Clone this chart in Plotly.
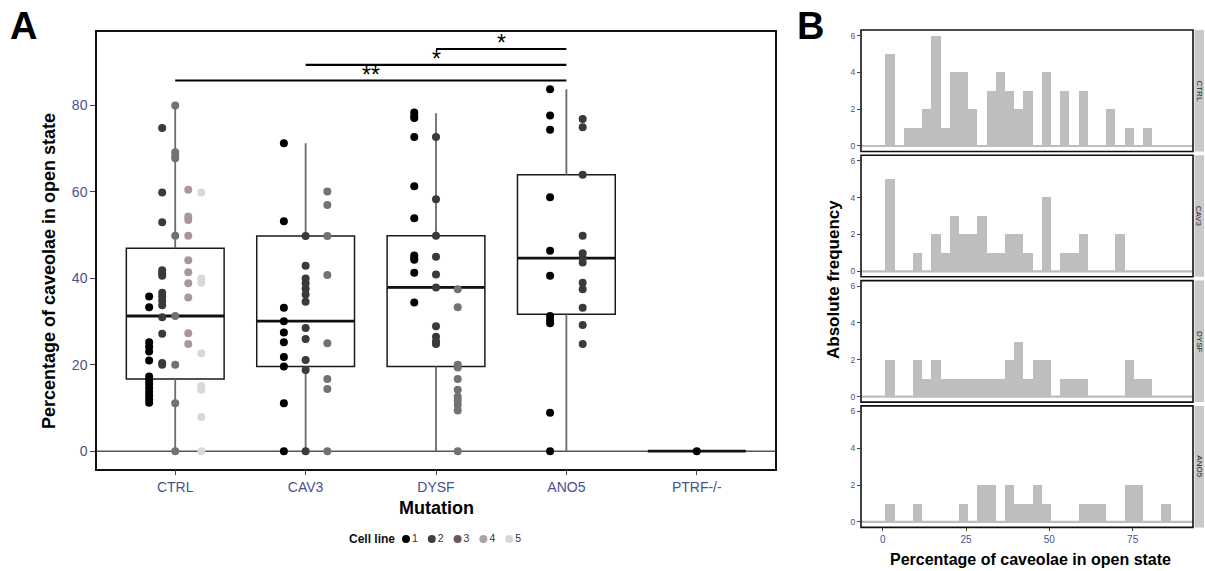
import plotly.graph_objects as go

W, H = 1205, 571

# ---------------- data: panel A ----------------
groups = ["CTRL", "CAV3", "DYSF", "ANO5", "PTRF-/-"]

ctrl_values = [
    [35.8, 33.3, 25.2, 24.2, 23.1, 21.0, 17.3, 16.5, 15.6, 14.7, 13.7, 12.9, 12.0, 11.2],
    [74.8, 59.9, 53.0, 41.9, 41.2, 40.6, 36.7, 35.8, 34.8, 33.8, 31.0, 27.2, 20.4, 20.0],
    [80.0, 69.2, 68.4, 67.8, 49.9, 31.3, 20.0, 11.1, 0.0],
    [60.5, 54.3, 53.5, 49.9, 44.2, 41.4, 38.9, 35.6, 27.3, 24.8],
    [59.9, 40.0, 39.0, 22.7, 15.1, 14.2, 7.9, 0.0],
]
cav3_values = [
    [71.3, 53.2, 33.2, 30.1, 27.5, 25.2, 21.8, 19.6, 11.1, 0.0],
    [49.8, 42.9, 40.0, 38.9, 37.6, 36.3, 34.6, 28.5, 26.0, 21.1, 18.8, 0.0],
    [60.1, 57.0, 49.8, 40.8, 25.0, 16.7, 14.4, 0.0],
]
dysf_values = [
    [78.4, 77.6, 77.1, 72.7, 61.3, 53.9, 45.3, 44.7, 44.3, 41.3, 34.4],
    [72.7, 58.3, 49.9, 45.0, 40.9, 37.9, 28.9, 26.5, 25.4, 24.8],
    [37.5, 33.3, 20.0, 19.4, 16.7, 14.2, 12.6, 11.7, 10.7, 9.4, 0.0],
]
ano5_values = [
    [83.8, 77.7, 74.4, 58.8, 46.4, 40.6, 31.3, 30.4, 29.6, 8.9, 0.0],
    [76.9, 75.0, 64.0, 49.9, 45.8, 44.7, 43.7, 39.0, 37.5, 33.2, 29.2, 24.8],
]
ptrf_values = [[0.0]]

box_q1 = [16.7, 19.6, 19.6, 31.7, 0.0]
box_median = [31.3, 30.1, 37.9, 44.7, 0.0]
box_q3 = [47.0, 49.8, 49.9, 64.0, 0.0]
whisker_low = [0.0, 0.0, 0.0, 0.0, 0.0]
whisker_high = [80.0, 71.3, 78.2, 83.8, 0.0]

sig_from = ["CTRL", "CAV3", "DYSF"]
sig_to = ["ANO5", "ANO5", "ANO5"]
sig_y = [85.8, 89.4, 93.1]
sig_label = ["**", "*", "*"]

cell_lines = ["1", "2", "3", "4", "5"]

# ---------------- data: panel B ----------------
facet_names = ["CTRL", "CAV3", "DYSF", "ANO5"]
hist_ctrl = [5, 0, 1, 1, 2, 6, 1, 4, 4, 2, 0, 3, 4, 3, 2, 3, 0, 4, 0, 3, 0, 3, 0, 0, 2, 0, 1, 0, 1, 0, 0]
hist_cav3 = [5, 0, 0, 1, 0, 2, 1, 3, 2, 2, 3, 1, 1, 2, 2, 1, 0, 4, 0, 1, 1, 2, 0, 0, 0, 2, 0, 0, 0, 0, 0]
hist_dysf = [2, 0, 0, 2, 1, 2, 1, 1, 1, 1, 1, 1, 1, 2, 3, 1, 2, 2, 0, 1, 1, 1, 0, 0, 0, 0, 2, 1, 1, 0, 0]
hist_ano5 = [1, 0, 0, 1, 0, 0, 0, 0, 1, 0, 2, 2, 0, 2, 1, 1, 2, 1, 0, 0, 0, 1, 1, 1, 0, 0, 2, 2, 0, 0, 1]
BIN_START = 0.8
BIN_WIDTH = 2.76

# ---------------- styles ----------------
FONT = "Liberation Sans, Arial, sans-serif"
TICK_BLUE = "#4a5090"
col_colors = ["#000000", "#3a3a3a", "#727272", "#a8989e", "#d8d8d8"]
legend_colors = ["#000000", "#3f3f3f", "#6e5360", "#a6a6a6", "#d6d6d6"]
BOX_W = 0.75
DODGE_W = 0.5


def px_x(p):
    return p / W


def px_y(p):
    return 1 - p / H


fig = go.Figure()

# ---------- panel A ----------
pos = {g: i + 1 for i, g in enumerate(groups)}

for i, g in enumerate(groups):
    xi = pos[g]
    fig.add_trace(go.Scatter(
        x=[xi, xi, None, xi, xi],
        y=[whisker_low[i], box_q1[i], None, box_q3[i], whisker_high[i]],
        mode="lines", line=dict(color="#6a6a6a", width=1.8),
        showlegend=False, hoverinfo="skip", xaxis="x", yaxis="y"))

for i, g in enumerate(groups):
    fig.add_trace(go.Box(
        x=[pos[g]], q1=[box_q1[i]], median=[box_median[i]], q3=[box_q3[i]],
        lowerfence=[box_q1[i]], upperfence=[box_q3[i]],
        width=BOX_W, fillcolor="rgba(255,255,255,0)",
        line=dict(color="#1a1a1a", width=1.5), boxpoints=False,
        showlegend=False, hoverinfo="skip", xaxis="x", yaxis="y"))
    fig.add_trace(go.Scatter(
        x=[pos[g] - BOX_W / 2, pos[g] + BOX_W / 2],
        y=[box_median[i], box_median[i]],
        mode="lines", line=dict(color="#111111", width=2.8),
        showlegend=False, hoverinfo="skip", xaxis="x", yaxis="y"))

all_values = {"CTRL": ctrl_values, "CAV3": cav3_values, "DYSF": dysf_values,
              "ANO5": ano5_values, "PTRF-/-": ptrf_values}
for g in groups:
    cols = all_values[g]
    n = len(cols)
    for j, vals in enumerate(cols):
        off = (j - (n - 1) / 2) * DODGE_W / n
        fig.add_trace(go.Scatter(
            x=[pos[g] + off] * len(vals), y=vals, mode="markers",
            marker=dict(size=8, color=col_colors[j], line=dict(width=0)),
            showlegend=False, hoverinfo="skip", xaxis="x", yaxis="y"))

shapes = []
annotations = []

shapes.append(dict(type="line", xref="x domain", yref="y", x0=0, x1=1, y0=0, y1=0,
                   line=dict(color="#555555", width=1.6), layer="below"))

for a, b, yv, lab in zip(sig_from, sig_to, sig_y, sig_label):
    shapes.append(dict(type="line", xref="x", yref="y", x0=pos[a], x1=pos[b], y0=yv, y1=yv,
                       line=dict(color="#000000", width=2.2)))
    annotations.append(dict(x=(pos[a] + pos[b]) / 2, y=yv, xref="x", yref="y",
                            text=lab, showarrow=False, xanchor="center", yanchor="bottom",
                            yshift=-9, font=dict(family=FONT, size=23, color="#000000")))

# ---------- panel B ----------
hists = [hist_ctrl, hist_cav3, hist_dysf, hist_ano5]
bin_centers = [BIN_START + BIN_WIDTH * (k + 0.5) for k in range(len(hist_ctrl))]
panel_tops = [30, 155.3, 280.6, 405.9]
PANEL_H = 121.5
bx0, bx1 = 861, 1193

for idx, (name, counts) in enumerate(zip(facet_names, hists)):
    ax = idx + 2
    fig.add_trace(go.Bar(
        x=bin_centers, y=counts, width=BIN_WIDTH,
        marker=dict(color="#bebebe", line=dict(width=0)),
        showlegend=False, hoverinfo="skip", xaxis=f"x{ax}", yaxis=f"y{ax}"))
    shapes.append(dict(type="line", xref=f"x{ax} domain", yref=f"y{ax}", x0=0, x1=1, y0=0, y1=0,
                       line=dict(color="#bdbdbd", width=2.2), layer="above"))
    shapes.append(dict(type="rect", xref=f"x{ax} domain", yref=f"y{ax} domain",
                       x0=0, x1=1, y0=0, y1=1, line=dict(color="#111111", width=1.6),
                       fillcolor="rgba(0,0,0,0)", layer="above"))
    shapes.append(dict(type="rect", xref="paper", yref=f"y{ax} domain",
                       x0=px_x(1194.5), x1=px_x(1204), y0=0, y1=1,
                       fillcolor="#c9c9c9", line=dict(width=0)))
    annotations.append(dict(x=px_x(1199.3), y=0.5, xref="paper", yref=f"y{ax} domain",
                            text=name, textangle=90, showarrow=False,
                            xanchor="center", yanchor="middle",
                            font=dict(family=FONT, size=8, color="#222222")))

# ---------- legend (manual, bottom) ----------
leg_x0 = 406
leg_dx = 25.8
leg_y = 539
fig.add_trace(go.Scatter(
    x=[leg_x0 + k * leg_dx for k in range(len(cell_lines))],
    y=[leg_y] * len(cell_lines),
    mode="markers+text", text=cell_lines, textposition="middle right",
    textfont=dict(family=FONT, size=10.5, color="#333333"),
    marker=dict(size=8, color=legend_colors, line=dict(width=0)),
    showlegend=False, hoverinfo="skip", xaxis="x6", yaxis="y6", cliponaxis=False))
annotations.append(dict(x=px_x(397), y=px_y(leg_y), xref="paper", yref="paper",
                        text="<b>Cell line</b>", showarrow=False, xanchor="right", yanchor="middle",
                        font=dict(family=FONT, size=12, color="#111111")))


# ---------- titles and panel letters ----------
def label(x, y, text, size, angle=0):
    return dict(x=px_x(x), y=px_y(y), xref="paper", yref="paper", text=text,
                textangle=angle, showarrow=False, xanchor="center", yanchor="middle",
                font=dict(family=FONT, size=size, color="#000000"))


annotations += [
    label(23, 26, "<b>A</b>", 38),
    label(810, 26, "<b>B</b>", 38),
    label(49, 271, "<b>Percentage of caveolae in open state</b>", 18, -90),
    label(436, 508, "<b>Mutation</b>", 18),
    label(834, 280, "<b>Absolute frequency</b>", 17, -90),
    label(1030, 559, "<b>Percentage of caveolae in open state</b>", 16),
]

axis_line = dict(showline=True, mirror=True, linecolor="#111111", linewidth=1.5,
                 showgrid=False, zeroline=False)

layout = dict(
    width=W, height=H, margin=dict(l=0, r=0, t=0, b=0),
    paper_bgcolor="white", plot_bgcolor="rgba(0,0,0,0)",
    shapes=shapes, annotations=annotations, showlegend=False, bargap=0,
    xaxis=dict(domain=[px_x(97), px_x(775)], range=[0.4, 5.6], anchor="y",
               tickvals=[pos[g] for g in groups], ticktext=groups,
               ticks="outside", ticklen=5, tickwidth=1.3, tickcolor="#444444",
               tickfont=dict(family=FONT, size=14, color=TICK_BLUE), **axis_line),
    yaxis=dict(domain=[px_y(468.5), px_y(31.7)], range=[-4.0, 97.1], anchor="x",
               tickvals=[0, 20, 40, 60, 80],
               ticks="outside", ticklen=5, tickwidth=1.3, tickcolor="#444444",
               tickfont=dict(family=FONT, size=14, color=TICK_BLUE), **axis_line),
    xaxis6=dict(domain=[0, 1], range=[0, W], visible=False, anchor="y6"),
    yaxis6=dict(domain=[0, 1], range=[H, 0], visible=False, anchor="x6"),
)

for idx in range(4):
    ax = idx + 2
    top = panel_tops[idx]
    bottom = top + PANEL_H
    last = idx == 3
    layout[f"xaxis{ax}"] = dict(
        domain=[px_x(bx0), px_x(bx1)], range=[-6.5, 93.1], anchor=f"y{ax}",
        tickvals=[0, 25, 50, 75], showticklabels=last,
        ticks="outside" if last else "", ticklen=3, tickwidth=1, tickcolor="#444444",
        tickfont=dict(family=FONT, size=10, color=TICK_BLUE),
        showline=False, showgrid=False, zeroline=False)
    layout[f"yaxis{ax}"] = dict(
        domain=[px_y(bottom), px_y(top)], range=[-0.3, 6.3], anchor=f"x{ax}",
        tickvals=[0, 2, 4, 6], ticks="outside", ticklen=3, tickwidth=1, tickcolor="#444444",
        tickfont=dict(family=FONT, size=8.5, color=TICK_BLUE),
        showline=False, showgrid=False, zeroline=False)

fig.update_layout(**layout)
fig.write_html("out.html", config={"displayModeBar": False},
               post_script="document.body.style.margin='0px';document.body.style.overflow='hidden';")
